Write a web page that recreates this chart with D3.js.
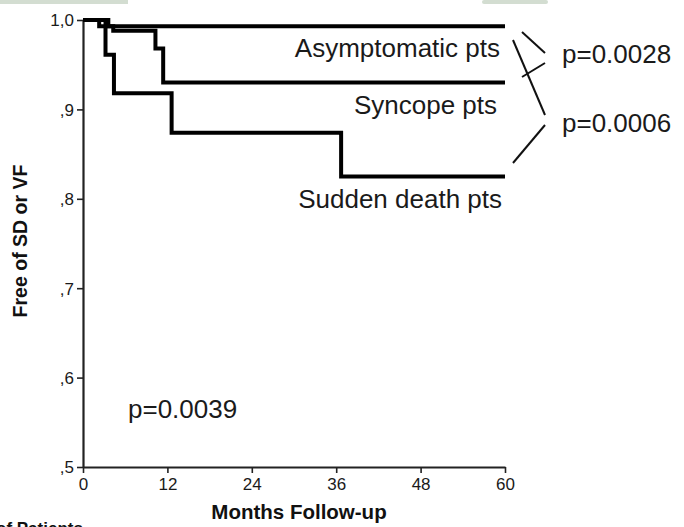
<!DOCTYPE html>
<html>
<head>
<meta charset="utf-8">
<script src="https://cdn.jsdelivr.net/npm/d3@7"></script>
<style>
  html, body { margin: 0; padding: 0; background: #fff; }
  svg { display: block; font-family: "Liberation Sans", Arial, sans-serif; }
</style>
</head>
<body>
<svg id="chart" width="684" height="527"></svg>
<script>
// Kaplan-Meier curves: event times (months) and survival after each step
const asymptomaticTimes = [0, 3.6];
const asymptomaticSurv  = [1.0, 0.993];
const syncopeTimes = [0, 2.3, 4.3, 10.3, 11.4];
const syncopeSurv  = [1.0, 0.993, 0.988, 0.968, 0.930];
const suddenTimes = [0, 3.2, 4.4, 12.6, 36.7];
const suddenSurv  = [1.0, 0.961, 0.918, 0.874, 0.825];
const followUpEnd = 60;

const xTicks = [0, 12, 24, 36, 48, 60];
const yTicks = [0.5, 0.6, 0.7, 0.8, 0.9, 1.0];
const yTickLabels = [",5", ",6", ",7", ",8", ",9", "1,0"];

const groupLabels = ["Asymptomatic pts", "Syncope pts", "Sudden death pts"];
const pValues = ["p=0.0028", "p=0.0006", "p=0.0039"];

const svg = d3.select("#chart");

// faint band along the top edge
svg.append("rect").attr("x", 0).attr("y", 0).attr("width", 128).attr("height", 4).attr("fill", "#d3ddd1");
svg.append("rect").attr("x", 482).attr("y", 0).attr("width", 66).attr("height", 4).attr("rx", 2).attr("fill", "#d3ddd1");

const x = d3.scaleLinear().domain([0, 60]).range([83, 505]);
const y = d3.scaleLinear().domain([0.5, 1.0]).range([467, 20]);

// axes
const yAxis = svg.append("g")
  .attr("transform", `translate(${x(0)},0)`)
  .call(d3.axisLeft(y).tickValues(yTicks)
    .tickFormat((d, i) => yTickLabels[i]).tickSize(6).tickSizeOuter(0));
const xAxis = svg.append("g")
  .attr("transform", `translate(0,${y(0.5)})`)
  .call(d3.axisBottom(x).tickValues(xTicks).tickSize(6).tickSizeOuter(0));

[yAxis, xAxis].forEach(g => {
  g.select(".domain").attr("stroke", "#222").attr("stroke-width", 2.2);
  g.selectAll(".tick line").attr("stroke", "#222").attr("stroke-width", 1.6);
  g.selectAll(".tick text").attr("fill", "#1a1a1a").style("font-size", "17px");
});
yAxis.selectAll(".tick text").attr("x", -9).attr("dy", "0.35em");
xAxis.selectAll(".tick text").attr("y", 11);

// step curves
const line = d3.line().x(d => x(d[0])).y(d => y(d[1])).curve(d3.curveStepAfter);
function steps(times, surv) {
  const pts = times.map((t, i) => [t, surv[i]]);
  pts.push([followUpEnd, surv[surv.length - 1]]);
  return pts;
}
[[asymptomaticTimes, asymptomaticSurv], [syncopeTimes, syncopeSurv], [suddenTimes, suddenSurv]]
  .forEach(([t, s]) => {
    svg.append("path")
      .attr("d", line(steps(t, s)))
      .attr("fill", "none")
      .attr("stroke", "#000")
      .attr("stroke-width", 4)
      .attr("stroke-linejoin", "miter");
  });

// group labels
const labelSize = 26;
const labelPos = [[500, 57], [497, 114], [502, 208]];
groupLabels.forEach((t, i) => {
  svg.append("text")
    .attr("x", labelPos[i][0]).attr("y", labelPos[i][1])
    .attr("text-anchor", "end")
    .attr("fill", "#1a1a1a")
    .style("font-size", labelSize + "px")
    .text(t);
});

// comparison brackets
const brackets = [
  [[522, 32], [545, 53]],
  [[545, 63], [522, 77]],
  [[513, 40], [545, 115]],
  [[545, 125], [513, 163]]
];
brackets.forEach(b => {
  svg.append("line")
    .attr("x1", b[0][0]).attr("y1", b[0][1])
    .attr("x2", b[1][0]).attr("y2", b[1][1])
    .attr("stroke", "#111").attr("stroke-width", 2);
});

svg.append("text").attr("x", 562).attr("y", 63).attr("fill", "#1a1a1a")
  .style("font-size", labelSize + "px").text(pValues[0]);
svg.append("text").attr("x", 562).attr("y", 132).attr("fill", "#1a1a1a")
  .style("font-size", labelSize + "px").text(pValues[1]);
svg.append("text").attr("x", 128).attr("y", 418).attr("fill", "#1a1a1a")
  .style("font-size", labelSize + "px").text(pValues[2]);

// axis titles
svg.append("text")
  .attr("transform", "translate(27,241) rotate(-90)")
  .attr("text-anchor", "middle")
  .attr("fill", "#111")
  .style("font-size", "19.5px").style("font-weight", "bold")
  .text("Free of SD or VF");
svg.append("text")
  .attr("x", 299).attr("y", 519)
  .attr("text-anchor", "middle")
  .attr("fill", "#111")
  .style("font-size", "20.5px").style("font-weight", "bold")
  .text("Months Follow-up");
svg.append("text")
  .attr("x", -4).attr("y", 534)
  .attr("fill", "#111")
  .style("font-size", "17px").style("font-weight", "bold")
  .text("of Patients");
</script>
</body>
</html>
